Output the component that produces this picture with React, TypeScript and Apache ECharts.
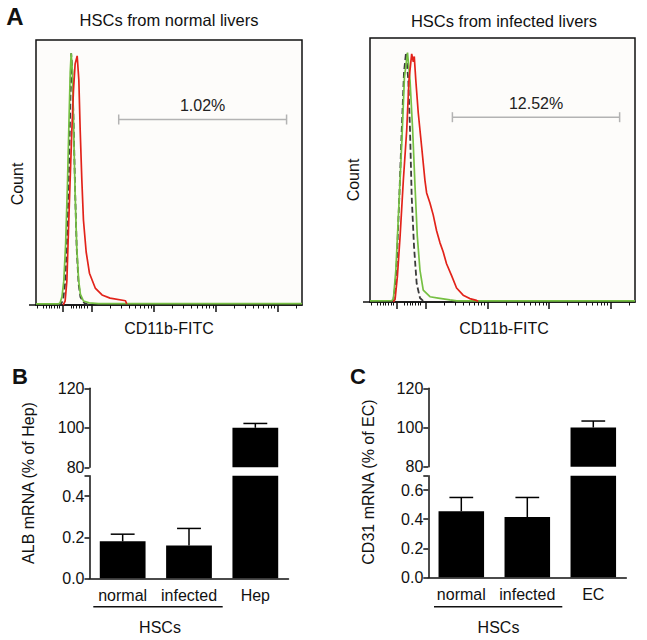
import React, { useEffect, useRef } from "react";
import * as echarts from "echarts";

const FONT = '"Liberation Sans", Arial, Helvetica, sans-serif';

// ---- Panel A: flow histograms (x = log decades of CD11b-FITC, y = % of modal count)
const normalGrey = [[1.45,0],[1.5,0.5],[1.53,2],[1.56,8],[1.59,22],[1.62,46],[1.645,74],[1.66,95],[1.675,90],[1.7,68],[1.725,42],[1.75,21],[1.78,8],[1.81,3],[1.87,0.8],[1.95,0]];
const normalGreen = [[1.09,0.4],[1.45,0.4],[1.48,0.8],[1.51,3],[1.54,9],[1.57,23],[1.6,46],[1.625,70],[1.645,88],[1.66,95],[1.68,88],[1.7,66],[1.725,41],[1.75,22],[1.78,9.5],[1.81,4],[1.86,1.5],[1.95,0.8],[2.1,0.5],[5.4,0.5]];
const normalRed = [[1.53,0],[1.562,1.5],[1.59,9],[1.616,28],[1.643,47],[1.671,66],[1.697,81],[1.724,91],[1.757,94],[1.784,85],[1.806,66],[1.833,47],[1.859,32],[1.903,20],[1.956,12],[2.05,6.4],[2.16,3.8],[2.29,2.6],[2.54,1.6],[2.56,0.4]];
const infectedGrey = [[1.44,0],[1.47,0.8],[1.5,6],[1.525,15],[1.567,40],[1.606,65],[1.643,87],[1.676,94.5],[1.713,84],[1.741,65],[1.768,40],[1.806,21],[1.849,7],[1.903,1.5],[1.956,0.4],[2.0,0]];
const infectedGreen = [[1.09,0.4],[1.44,0.5],[1.47,1],[1.51,12],[1.567,40],[1.61,62],[1.65,85],[1.7,94.5],[1.741,84],[1.784,65],[1.822,44],[1.859,25],[1.903,12],[1.956,4.5],[2.065,2],[2.2,1.5],[2.39,0.8],[2.5,0.4],[5.4,0.4]];
const infectedRed = [[1.47,0],[1.498,1],[1.535,9.6],[1.579,24.7],[1.632,46],[1.687,65],[1.724,84],[1.768,94],[1.794,91],[1.81,93],[1.835,84],[1.875,71.6],[1.93,58.8],[1.984,46],[2.011,41.3],[2.065,37.5],[2.118,33],[2.173,27],[2.227,22.5],[2.28,19],[2.335,14.5],[2.417,10],[2.498,5.3],[2.605,2.6],[2.713,1.3],[2.822,0.6],[2.85,0.2]];
const gateNormal = [[2.43, 5.15, 70]];
const gateInfected = [[2.43, 5.15, 70]];
const gateNormalLabel = ["1.02%"];
const gateInfectedLabel = ["12.52%"];
const histMin = 1.09;
const histMax = 5.4;
const histMajorTicks = [1.525, 2, 3, 4, 5];
const histLinearTicks = [1.113, 1.201, 1.254, 1.298, 1.34, 1.384, 1.428, 1.47, 1.655, 1.697, 1.741, 1.784, 1.827, 1.87, 1.914];
const histMinorTicks: number[] = [...histLinearTicks];
[2, 3, 4].forEach((d) => { for (let k = 2; k <= 9; k++) histMinorTicks.push(d + Math.log10(k)); });
histMinorTicks.push(5 + Math.log10(2));

// ---- Panels B and C: qPCR bars
const albCats = ["normal", "infected", "Hep"];
const albMean = [0.18, 0.16, 100];
const albErr = [0.035, 0.083, 2.2];
const cd31Cats = ["normal", "infected", "EC"];
const cd31Mean = [0.455, 0.415, 100];
const cd31Err = [0.095, 0.135, 3.3];
const upperTicks = [80, 100, 120];
const albLowerTicks = [0, 0.2, 0.4, 0.5];
const albLowerLabels = [0, 0.2, 0.4];
const cd31LowerTicks = [0, 0.2, 0.4, 0.6, 0.7];
const cd31LowerLabels = [0, 0.2, 0.4, 0.6];

const ink = "#111";

function errRender(params: any, api: any) {
  const cat = api.value(0), mean = api.value(1), err = api.value(2);
  const cs = params.coordSys;
  const base = api.coord([cat, mean]);
  if (base[1] < cs.y - 0.5 || base[1] > cs.y + cs.height + 0.5) return null;
  const top = api.coord([cat, mean + err]);
  const half = api.size([1, 0])[0] * 0.18;
  const st = { stroke: "#000", lineWidth: 1.5 };
  return {
    type: "group",
    children: [
      { type: "line", shape: { x1: base[0], y1: base[1], x2: top[0], y2: top[1] }, style: st },
      { type: "line", shape: { x1: top[0] - half, y1: top[1], x2: top[0] + half, y2: top[1] }, style: st },
    ],
  };
}

function gateRender(labels: string[]) {
  return (params: any, api: any) => {
    const a = api.coord([api.value(0), api.value(2)]);
    const b = api.coord([api.value(1), api.value(2)]);
    const st = { stroke: "#b3b3b3", lineWidth: 1.5 };
    return {
      type: "group",
      children: [
        { type: "line", shape: { x1: a[0], y1: a[1], x2: b[0], y2: b[1] }, style: st },
        { type: "line", shape: { x1: a[0], y1: a[1] - 5, x2: a[0], y2: a[1] + 5 }, style: st },
        { type: "line", shape: { x1: b[0], y1: b[1] - 5, x2: b[0], y2: b[1] + 5 }, style: st },
        {
          type: "text", x: (a[0] + b[0]) / 2, y: a[1] - 14,
          style: { text: labels[params.dataIndex], fill: "#222", font: `16px ${FONT}`, textAlign: "center", align: "center", textVerticalAlign: "middle", verticalAlign: "middle" },
        },
      ],
    };
  };
}

function txt(text: string, x: number, y: number, opts: any = {}) {
  return {
    type: "text", x, y, rotation: opts.rot || 0,
    style: {
      text, fill: opts.fill || ink,
      font: `${opts.bold ? "bold " : ""}${opts.size || 16}px ${FONT}`,
      textAlign: "center", align: "center", textVerticalAlign: "middle", verticalAlign: "middle",
    },
  };
}

function histX(grid: number) {
  return [
    {
      type: "value", gridIndex: grid, min: histMin, max: histMax, position: "bottom",
      axisLine: { show: true, onZero: false, lineStyle: { color: ink, width: 1.5 } },
      axisTick: { show: true, customValues: histMajorTicks, length: 7, lineStyle: { color: ink, width: 1.5 } },
      axisLabel: { show: false }, splitLine: { show: false },
    },
    {
      type: "value", gridIndex: grid, min: histMin, max: histMax, position: "bottom",
      axisLine: { show: false },
      axisTick: { show: true, customValues: histMinorTicks, length: 3.5, lineStyle: { color: ink, width: 1 } },
      axisLabel: { show: false }, splitLine: { show: false },
    },
  ];
}

function barAxes(grid: number, cats: string[]) {
  return [
    { type: "category", gridIndex: grid, data: cats, show: false },
    {
      type: "category", gridIndex: grid + 1, data: cats,
      axisLine: { lineStyle: { color: ink, width: 1.5 } },
      axisTick: { alignWithLabel: true, length: 5, interval: 0, lineStyle: { color: ink, width: 1.5 } },
      axisLabel: { color: ink, fontSize: 16, margin: 9, interval: 0, fontFamily: FONT },
    },
  ];
}

function barY(grid: number, max: number, ticks: number[], labels: number[]) {
  const common = {
    axisLine: { show: true, lineStyle: { color: ink, width: 1.5 } },
    splitLine: { show: false },
  };
  return [
    {
      type: "value", gridIndex: grid, min: 80, max: 120, interval: 20, ...common,
      axisTick: { show: true, length: 5, customValues: upperTicks, lineStyle: { color: ink, width: 1.5 } },
      axisLabel: { color: ink, fontSize: 16, margin: 5, fontFamily: FONT, customValues: upperTicks },
    },
    {
      type: "value", gridIndex: grid + 1, min: 0, max, ...common,
      axisTick: { show: true, length: 5, customValues: ticks, lineStyle: { color: ink, width: 1.5 } },
      axisLabel: { color: ink, fontSize: 16, margin: 5, fontFamily: FONT, customValues: labels, formatter: (v: number) => v.toFixed(1) },
    },
  ];
}

function lineSeries(xi: number, yi: number, data: number[][], color: string, dashed: boolean, z: number) {
  return {
    type: "line", xAxisIndex: xi, yAxisIndex: yi, data, showSymbol: false, symbol: "none", silent: true, z,
    lineStyle: { color, width: dashed ? 1.8 : 1.7, type: dashed ? [6, 3] : "solid" },
  };
}

function barSeries(xi: number, yi: number, means: number[], errs: number[]) {
  return [
    { type: "bar", xAxisIndex: xi, yAxisIndex: yi, data: means, barWidth: "69%", itemStyle: { color: "#000" }, clip: true, silent: true },
    {
      type: "custom", xAxisIndex: xi, yAxisIndex: yi, z: 5, silent: true,
      data: means.map((m, i) => [i, m, errs[i]]), encode: { x: 0, y: 1 }, renderItem: errRender,
    },
  ];
}

export default function App() {
  const ref = useRef<HTMLDivElement>(null);
  useEffect(() => {
    const chart = echarts.init(ref.current!, null, { renderer: "svg" });
    const histGrid = { show: true, backgroundColor: "#fdfcfa", borderColor: ink, borderWidth: 1.5 };
    chart.setOption({
      animation: false,
      backgroundColor: "#fff",
      textStyle: { fontFamily: FONT },
      grid: [
        { left: 36, top: 40, width: 266, height: 265, ...histGrid },
        { left: 370, top: 38, width: 265, height: 264, ...histGrid },
        { left: 89.5, top: 388.3, width: 199, height: 79 },
        { left: 89.5, top: 475.7, width: 199, height: 102.6 },
        { left: 428.3, top: 388.3, width: 198, height: 78.4 },
        { left: 428.3, top: 475.7, width: 198, height: 101.6 },
      ],
      xAxis: [...histX(0), ...histX(1), ...barAxes(2, albCats), ...barAxes(4, cd31Cats)],
      yAxis: [
        { type: "value", gridIndex: 0, min: 0, max: 100, show: false },
        { type: "value", gridIndex: 1, min: 0, max: 100, show: false },
        ...barY(2, 0.5, albLowerTicks, albLowerLabels),
        ...barY(4, 0.7, cd31LowerTicks, cd31LowerLabels),
      ],
      series: [
        lineSeries(0, 0, normalGrey, "#3a3a3a", true, 2),
        lineSeries(0, 0, normalGreen, "#76c043", false, 3),
        lineSeries(0, 0, normalRed, "#e2231a", false, 4),
        lineSeries(2, 1, infectedGrey, "#3a3a3a", true, 2),
        lineSeries(2, 1, infectedGreen, "#76c043", false, 3),
        lineSeries(2, 1, infectedRed, "#e2231a", false, 4),
        { type: "custom", xAxisIndex: 0, yAxisIndex: 0, data: gateNormal, renderItem: gateRender(gateNormalLabel), silent: true, z: 5 },
        { type: "custom", xAxisIndex: 2, yAxisIndex: 1, data: gateInfected, renderItem: gateRender(gateInfectedLabel), silent: true, z: 5 },
        ...barSeries(4, 2, albMean, albErr),
        ...barSeries(5, 3, albMean, albErr),
        ...barSeries(6, 4, cd31Mean, cd31Err),
        ...barSeries(7, 5, cd31Mean, cd31Err),
      ],
      graphic: [
        { type: "line", shape: { x1: 29, y1: 305, x2: 36, y2: 305 }, style: { stroke: ink, lineWidth: 1.5 } },
        { type: "line", shape: { x1: 363, y1: 302, x2: 370, y2: 302 }, style: { stroke: ink, lineWidth: 1.5 } },
        txt("A", 15, 16, { bold: true, size: 24 }),
        txt("B", 20, 376, { bold: true, size: 22 }),
        txt("C", 358, 376, { bold: true, size: 22 }),
        txt("HSCs from normal livers", 169, 20, { size: 16.5 }),
        txt("HSCs from infected livers", 504, 21, { size: 16.5 }),
        txt("CD11b-FITC", 169, 328),
        txt("CD11b-FITC", 504, 328),
        txt("Count", 17.5, 184, { rot: Math.PI / 2 }),
        txt("Count", 353, 180, { rot: Math.PI / 2 }),
        txt("ALB mRNA (% of Hep)", 28.3, 483, { rot: Math.PI / 2 }),
        txt("CD31 mRNA (% of EC)", 368.3, 482, { rot: Math.PI / 2 }),
        { type: "line", shape: { x1: 93.3, y1: 606.7, x2: 222.7, y2: 606.7 }, style: { stroke: ink, lineWidth: 1.5 } },
        { type: "line", shape: { x1: 434, y1: 606.7, x2: 562.3, y2: 606.7 }, style: { stroke: ink, lineWidth: 1.5 } },
        txt("HSCs", 160, 627),
        txt("HSCs", 498.5, 627),
      ],
    });
    return () => chart.dispose();
  }, []);
  return <div ref={ref} style={{ position: "fixed", left: 0, top: 0, width: 647, height: 640 }} />;
}
